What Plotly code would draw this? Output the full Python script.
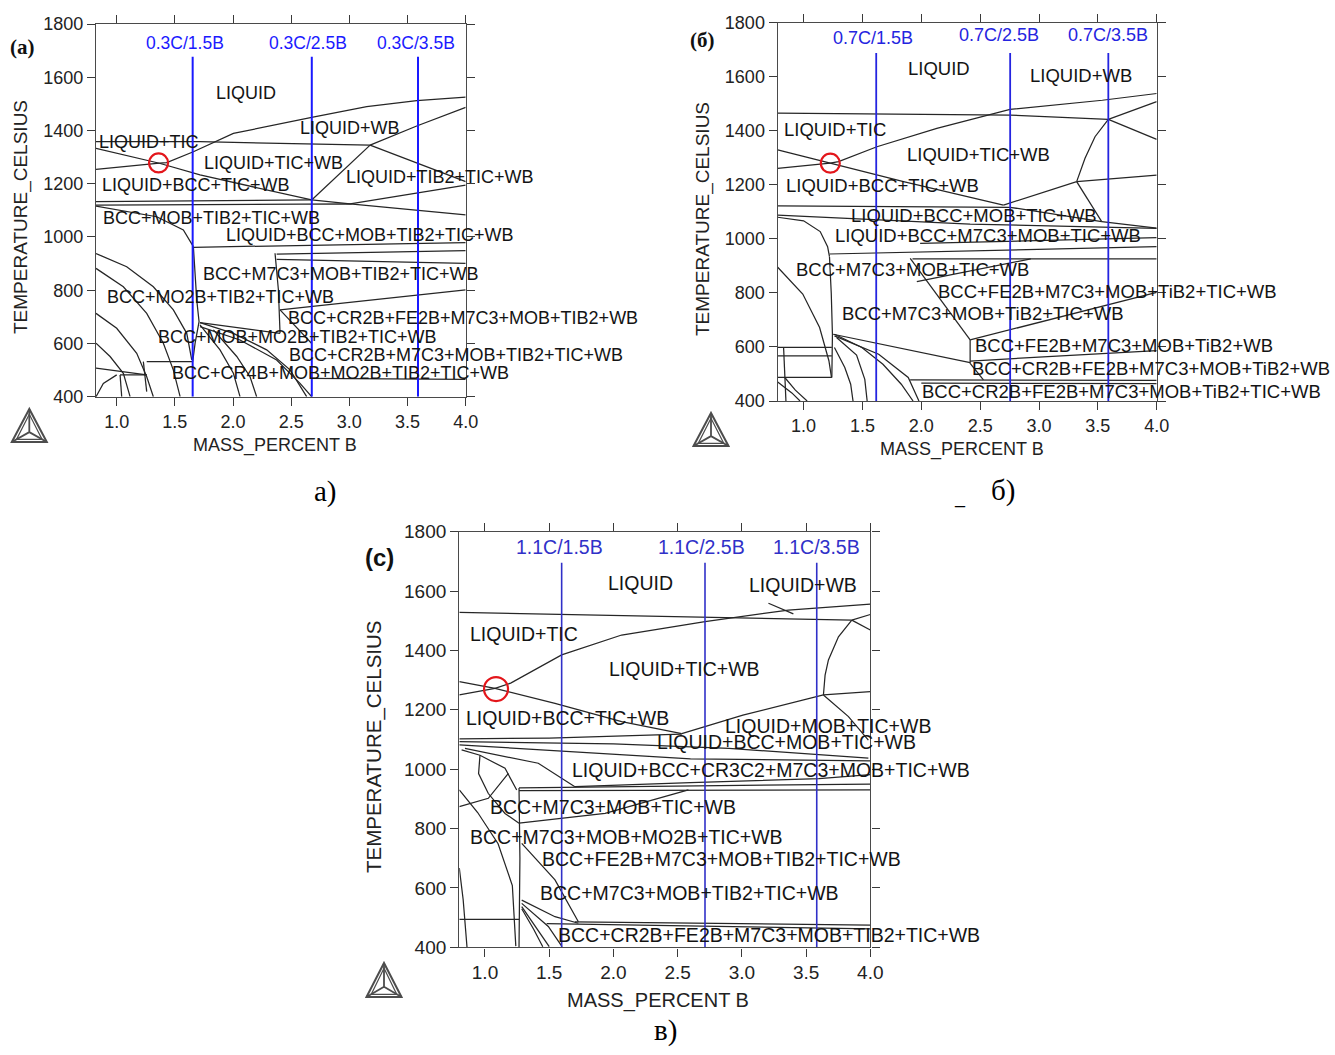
import plotly.graph_objects as go

W, H = 1335, 1055

# ---------------- data ----------------
X_TICKS = [1.0, 1.5, 2.0, 2.5, 3.0, 3.5, 4.0]
T_TICKS = [400, 600, 800, 1000, 1200, 1400, 1600, 1800]
T_RANGE = [400, 1800]
A_X_RANGE = [0.822, 4.0]
B_X_RANGE = [0.78, 4.0]
C_X_RANGE = [0.80, 4.0]

# vertical sections (composition lines)
A_SECTION_X = [1.653, 2.677, 3.59]
A_SECTION_TOP = 1677
A_SECTION_TEXT = ["0.3C/1.5B", "0.3C/2.5B", "0.3C/3.5B"]
A_SECTION_TEXT_X = [1.587, 2.648, 3.574]
A_SECTION_TEXT_T = [1730, 1730, 1730]

B_SECTION_X = [1.617, 2.755, 3.589]
B_SECTION_TOP = 1688
B_SECTION_TEXT = ["0.7C/1.5B", "0.7C/2.5B", "0.7C/3.5B"]
B_SECTION_TEXT_X = [1.589, 2.661, 3.584]
B_SECTION_TEXT_T = [1745, 1754, 1754]

C_SECTION_X = [1.597, 2.713, 3.583]
C_SECTION_TOP = 1695
C_SECTION_TEXT = ["1.1C/1.5B", "1.1C/2.5B", "1.1C/3.5B"]
C_SECTION_TEXT_X = [1.579, 2.688, 3.583]
C_SECTION_TEXT_T = [1749, 1749, 1749]

# invariant point markers (red circles)
A_MARK = (1.36, 1278)
B_MARK = (1.227, 1280)
C_MARK = (1.086, 1270)

# phase boundaries: lists of (mass % B, T celsius)
A_BOUNDARIES = [
    [(1.367, 1277), (1.43, 1279), (1.659, 1320), (2.003, 1389), (2.676, 1449), (3.149, 1490), (3.579, 1512), (4.0, 1525)],
    [(3.178, 1345), (3.579, 1417), (4.0, 1487)],
    [(0.822, 1358), (1.716, 1358), (3.178, 1345)],
    [(0.822, 1333), (1.367, 1277), (1.716, 1233), (2.676, 1139)],
    [(0.822, 1254), (1.367, 1277)],
    [(2.676, 1139), (3.178, 1345)],
    [(3.178, 1345), (4.0, 1208)],
    [(0.822, 1133), (2.676, 1139)],
    [(0.822, 1120), (3.006, 1124), (4.0, 1083)],
    [(2.676, 1139), (3.006, 1124)],
    [(3.006, 1124), (4.0, 1195)],
    [(0.822, 1116), (1.344, 1076), (1.573, 1026), (1.659, 964)],
    [(1.659, 964), (1.688, 763), (1.708, 682), (1.674, 601), (1.653, 532)],
    [(1.659, 961), (4.0, 979)],
    [(2.375, 936), (4.0, 949)],
    [(2.375, 916), (4.0, 901)],
    [(2.361, 939), (2.39, 801), (2.404, 638)],
    [(2.404, 726), (4.0, 801)],
    [(1.716, 678), (2.404, 638)],
    [(2.662, 469), (4.0, 465)],
    [(1.716, 678), (2.003, 638), (2.289, 576), (2.49, 501), (2.633, 400)],
    [(1.716, 663), (2.06, 613), (2.375, 538), (2.576, 450), (2.676, 400)],
    [(1.716, 670), (1.888, 576), (2.003, 488), (2.06, 400)],
    [(1.831, 651), (2.032, 551), (2.146, 475), (2.203, 400)],
    [(2.404, 726), (2.55, 660), (2.676, 600)],
    [(0.822, 938), (1.086, 888), (1.315, 813), (1.487, 726), (1.602, 638), (1.645, 538)],
    [(0.822, 882), (1.057, 813), (1.258, 713), (1.401, 601), (1.487, 500), (1.545, 400)],
    [(0.822, 713), (1.0, 657), (1.172, 563), (1.258, 475), (1.315, 400)],
    [(0.822, 601), (0.943, 551), (1.057, 488), (1.115, 400)],
    [(1.258, 532), (1.653, 532)],
    [(0.822, 507), (1.258, 482)],
    [(1.029, 482), (1.258, 482)],
    [(0.822, 400), (0.885, 450), (1.0, 482)],
    [(1.029, 482), (1.043, 400)],
    [(1.229, 532), (1.258, 419)],
]

B_BOUNDARIES = [
    [(0.78, 1465), (2.754, 1458), (3.589, 1442)],
    [(1.226, 1280), (1.297, 1286), (1.623, 1341), (2.132, 1409), (2.754, 1479), (3.538, 1513), (4.0, 1538)],
    [(3.589, 1442), (4.0, 1508)],
    [(3.589, 1442), (4.0, 1368)],
    [(3.589, 1442), (3.476, 1378), (3.391, 1298), (3.32, 1212)],
    [(3.32, 1212), (4.0, 1236)],
    [(0.78, 1329), (1.226, 1280), (1.849, 1212), (2.698, 1125)],
    [(0.78, 1261), (1.226, 1280)],
    [(2.698, 1125), (3.32, 1212)],
    [(3.32, 1212), (3.533, 1064)],
    [(0.78, 1122), (2.754, 1117), (3.533, 1064)],
    [(0.78, 1088), (2.415, 1055), (4.0, 1039)],
    [(3.533, 1064), (4.0, 1040)],
    [(0.78, 1080), (1.0, 1067), (1.141, 1027), (1.204, 971), (1.22, 934)],
    [(1.22, 934), (1.235, 800), (1.245, 647), (1.24, 487)],
    [(1.22, 944), (4.0, 971)],
    [(1.99, 983), (4.0, 1005)],
    [(1.925, 926), (4.0, 926)],
    [(1.906, 928), (2.415, 626)],
    [(1.962, 842), (2.93, 926)],
    [(2.415, 626), (2.415, 539)],
    [(2.415, 626), (4.0, 802)],
    [(2.415, 548), (4.0, 586)],
    [(2.415, 539), (2.528, 478)],
    [(1.905, 478), (4.0, 476)],
    [(2.0, 466), (4.0, 464)],
    [(1.251, 647), (2.415, 542)],
    [(0.78, 895), (0.993, 796), (1.136, 672), (1.215, 549), (1.237, 487)],
    [(0.78, 598), (1.24, 598)],
    [(0.78, 567), (1.24, 567)],
    [(0.78, 487), (1.24, 487)],
    [(0.83, 598), (0.85, 400)],
    [(0.78, 470), (0.9, 430), (0.97, 400)],
    [(0.84, 487), (0.93, 440), (1.03, 400)],
    [(1.262, 647), (1.495, 598), (1.674, 536), (1.83, 462), (1.93, 400)],
    [(1.28, 635), (1.45, 570), (1.52, 480), (1.54, 400)],
    [(1.262, 598), (1.35, 524), (1.40, 462), (1.42, 400)],
    [(1.262, 641), (1.638, 573), (1.889, 487), (1.98, 400)],
]

C_BOUNDARIES = [
    [(0.80, 1528), (2.0, 1518), (2.713, 1510), (3.4, 1505), (3.856, 1502)],
    [(1.078, 1272), (1.2, 1290), (1.597, 1385), (2.064, 1452), (2.713, 1497), (3.362, 1536), (4.0, 1556)],
    [(3.207, 1559), (3.401, 1523)],
    [(3.856, 1502), (3.752, 1446), (3.674, 1368), (3.648, 1317), (3.635, 1250)],
    [(3.856, 1502), (4.0, 1521)],
    [(3.856, 1502), (4.0, 1469)],
    [(3.635, 1250), (4.0, 1261)],
    [(3.635, 1250), (3.83, 1177), (3.985, 1098)],
    [(0.80, 1295), (1.078, 1272), (1.545, 1222), (2.064, 1160), (2.532, 1120)],
    [(0.80, 1250), (1.078, 1272)],
    [(2.532, 1120), (3.008, 1182), (3.635, 1250)],
    [(0.80, 1102), (1.5, 1105), (2.532, 1118)],
    [(0.80, 1093), (2.0, 1085), (2.9, 1070), (3.985, 1037)],
    [(0.80, 1082), (1.6, 1060), (2.6, 1035), (4.0, 1028)],
    [(0.844, 1070), (1.415, 1020), (1.70, 941)],
    [(1.70, 941), (2.6, 955), (3.6, 968), (4.0, 982)],
    [(1.265, 937), (4.0, 950)],
    [(1.265, 928), (4.0, 930)],
    [(0.818, 1065), (0.961, 1047), (1.156, 1003), (1.247, 930)],
    [(0.961, 1047), (0.95, 985), (1.026, 918), (1.156, 851), (1.265, 818)],
    [(0.80, 874), (1.026, 902), (1.182, 986)],
    [(1.265, 818), (1.935, 851), (2.584, 930)],
    [(0.80, 930), (0.943, 854), (1.102, 749), (1.213, 608), (1.24, 404)],
    [(1.265, 937), (1.272, 700), (1.265, 400)],
    [(1.286, 750), (1.545, 627), (1.727, 486)],
    [(1.48, 480), (4.0, 462)],
    [(1.70, 486), (4.0, 475)],
    [(1.286, 559), (1.545, 503), (1.727, 481)],
    [(1.286, 548), (1.493, 470), (1.6, 402)],
    [(1.286, 537), (1.415, 458), (1.5, 402)],
    [(1.286, 530), (1.38, 460), (1.45, 402)],
    [(0.80, 667), (0.83, 561), (0.86, 400)],
    [(0.80, 494), (1.265, 494)],
]

# phase-field labels: (text, mass % B, T)
A_LABELS = [
    ("LIQUID", 2.112, 1542),
    ("LIQUID+WB", 3.006, 1411),
    ("LIQUID+TIC", 1.28, 1358),
    ("LIQUID+TIB2+WB", 4.055, 1353),
    ("LIQUID+TIC+WB", 2.352, 1279),
    ("LIQUID+TIB2+TIC+WB", 3.78, 1225),
    ("LIQUID+BCC+TIC+WB", 1.682, 1195),
    ("LIQUID+MOB+TIB2+TIC+WB", 4.347, 1150),
    ("BCC+MOB+TIB2+TIC+WB", 1.817, 1070),
    ("LIQUID+BCC+MOB+TIB2+TIC+WB", 3.178, 1007),
    ("BCC+M7C3+MOB+TIB2+TIC+WB", 2.929, 861),
    ("BCC+MO2B+TIB2+TIC+WB", 1.888, 776),
    ("BCC+CR2B+FE2B+M7C3+MOB+TIB2+WB", 3.978, 696),
    ("BCC+MOB+MO2B+TIB2+TIC+WB", 2.55, 624),
    ("BCC+CR2B+M7C3+MOB+TIB2+TIC+WB", 3.918, 557),
    ("BCC+CR4B+MOB+MO2B+TIB2+TIC+WB", 2.92, 489),
    ("BCC+CR2B+FE2B+MOB+TIB2+TIC+WB", 4.09, 437),
]

B_LABELS = [
    ("LIQUID", 2.152, 1632),
    ("LIQUID+WB", 3.357, 1606),
    ("LIQUID+TIC", 1.269, 1403),
    ("LIQUID+TIC+WB", 2.483, 1314),
    ("LIQUID+TiB2+TIC+WB", 4.215, 1270),
    ("LIQUID+BCC+TIC+WB", 1.668, 1199),
    ("LIQUID+MOB+TiB2+TIC+WB", 4.401, 1170),
    ("LIQUID+BCC+MOB+TIC+WB", 2.449, 1085),
    ("LIQUID+BCC+M7C3+MOB+TIC+WB", 2.568, 1011),
    ("BCC+M7C3+MOB+TIC+WB", 1.923, 885),
    ("BCC+FE2B+M7C3+MOB+TiB2+TIC+WB", 3.578, 807),
    ("BCC+M7C3+MOB+TiB2+TIC+WB", 2.525, 722),
    ("BCC+FE2B+M7C3+MOB+TiB2+WB", 3.722, 604),
    ("BCC+CR2B+FE2B+M7C3+MOB+TiB2+WB", 3.951, 522),
    ("BCC+CR2B+FE2B+M7C3+MOB+TiB2+TIC+WB", 3.697, 437),
]

C_LABELS = [
    ("LIQUID", 2.207, 1627),
    ("LIQUID+WB", 3.477, 1620),
    ("LIQUID+TIC", 1.304, 1455),
    ("LIQUID+TIC+WB", 2.55, 1337),
    ("LIQUID+BCC+TIC+WB", 1.646, 1172),
    ("LIQUID+MOB+TIC+WB", 3.67, 1145),
    ("LIQUID+BCC+MOB+TIC+WB", 3.35, 1090),
    ("LIQUID+BCC+CR3C2+M7C3+MOB+TIC+WB", 3.224, 998),
    ("BCC+M7C3+MOB+TIC+WB", 1.997, 873),
    ("BCC+M7C3+MOB+MO2B+TIC+WB", 2.098, 772),
    ("BCC+FE2B+M7C3+MOB+TIB2+TIC+WB", 2.838, 697),
    ("BCC+M7C3+MOB+TIB2+TIC+WB", 2.589, 583),
    ("BCC+CR2B+FE2B+M7C3+MOB+TIB2+TIC+WB", 3.212, 441),
]

# ---------------- layout geometry (pixels) ----------------
A_BOX = (96.0, 24.0, 465.7, 396.7)     # left, top, right, bottom
B_BOX = (777.7, 22.7, 1156.7, 401.0)
C_BOX = (459.3, 531.7, 870.3, 947.3)

SANS = "Liberation Sans, Arial, sans-serif"
SERIF = "Liberation Serif, Times New Roman, serif"


def px(x, y):
    return x / W, 1 - y / H


fig = go.Figure()
annotations = []
shapes = []


def add_panel(idx, box, xr, boundaries, labels, sec_x, sec_top, sec_text, sec_tx, sec_tt,
              mark, blue, blue_w, lab_size, tick_size, sec_size, mark_size):
    xa = "x" if idx == 1 else "x%d" % idx
    ya = "y" if idx == 1 else "y%d" % idx
    bx, by = [], []
    for line in boundaries:
        for (u, v) in line:
            bx.append(u)
            by.append(v)
        bx.append(None)
        by.append(None)
    fig.add_trace(go.Scatter(x=bx, y=by, mode="lines", xaxis=xa, yaxis=ya,
                             line=dict(color="#262626", width=1.25), hoverinfo="skip",
                             showlegend=False))
    sx, sy = [], []
    for u in sec_x:
        sx += [u, u, None]
        sy += [sec_top, T_RANGE[0], None]
    fig.add_trace(go.Scatter(x=sx, y=sy, mode="lines", xaxis=xa, yaxis=ya,
                             line=dict(color=blue, width=blue_w), hoverinfo="skip",
                             showlegend=False))
    fig.add_trace(go.Scatter(x=[mark[0]], y=[mark[1]], mode="markers", xaxis=xa, yaxis=ya,
                             marker=dict(symbol="circle-open", size=mark_size, color="#e3161b",
                                         line=dict(width=2.2, color="#e3161b")),
                             hoverinfo="skip", showlegend=False))
    for (t, u, v) in labels:
        annotations.append(dict(text=t, x=u, y=v, xref=xa, yref=ya, showarrow=False,
                                xanchor="center", yanchor="middle",
                                font=dict(family=SANS, size=lab_size, color="#141414")))
    for t, u, v in zip(sec_text, sec_tx, sec_tt):
        annotations.append(dict(text=t, x=u, y=v, xref=xa, yref=ya, showarrow=False,
                                xanchor="center", yanchor="middle",
                                font=dict(family=SANS, size=sec_size, color=blue)))
    l, t_, r, b = box
    axcommon = dict(showgrid=False, zeroline=False, showline=True, linecolor="#4a4a4a",
                    linewidth=1.4, mirror="ticks", ticks="outside", ticklen=8, tickwidth=1.3,
                    tickcolor="#3a3a3a", automargin=False,
                    tickfont=dict(family=SANS, size=tick_size, color="#222"))
    fig.layout["xaxis" if idx == 1 else "xaxis%d" % idx] = dict(
        domain=[l / W, r / W], range=xr, tickvals=X_TICKS,
        ticktext=["%.1f" % v for v in X_TICKS], anchor=ya, **axcommon)
    fig.layout["yaxis" if idx == 1 else "yaxis%d" % idx] = dict(
        domain=[1 - b / H, 1 - t_ / H], range=T_RANGE, tickvals=T_TICKS,
        ticktext=[str(v) for v in T_TICKS], anchor=xa, **axcommon)


add_panel(1, A_BOX, A_X_RANGE, A_BOUNDARIES, A_LABELS, A_SECTION_X, A_SECTION_TOP,
          A_SECTION_TEXT, A_SECTION_TEXT_X, A_SECTION_TEXT_T, A_MARK, "#1a1aff", 2.0,
          18, 18, 17.5, 19)
add_panel(2, B_BOX, B_X_RANGE, B_BOUNDARIES, B_LABELS, B_SECTION_X, B_SECTION_TOP,
          B_SECTION_TEXT, B_SECTION_TEXT_X, B_SECTION_TEXT_T, B_MARK, "#2424e0", 1.8,
          18.5, 18, 18, 19)
add_panel(3, C_BOX, C_X_RANGE, C_BOUNDARIES, C_LABELS, C_SECTION_X, C_SECTION_TOP,
          C_SECTION_TEXT, C_SECTION_TEXT_X, C_SECTION_TEXT_T, C_MARK, "#3030c8", 1.6,
          19.5, 19, 19.5, 24)


def paper_text(text, x, y, size, family=SANS, angle=0, color="#222", bold=False):
    xp, yp = px(x, y)
    t = "<b>%s</b>" % text if bold else text
    annotations.append(dict(text=t, x=xp, y=yp, xref="paper", yref="paper", showarrow=False,
                            xanchor="center", yanchor="middle", textangle=angle,
                            font=dict(family=family, size=size, color=color)))


# axis titles
paper_text("TEMPERATURE_CELSIUS", 21, 217, 19, angle=-90)
paper_text("MASS_PERCENT B", 275, 445, 18)
paper_text("TEMPERATURE_CELSIUS", 703, 219, 19, angle=-90)
paper_text("MASS_PERCENT B", 962, 449, 18)
paper_text("TEMPERATURE_CELSIUS", 374, 747, 20.5, angle=-90)
paper_text("MASS_PERCENT B", 658, 1000, 20)

# panel letters
paper_text("(a)", 22, 47, 21, family=SERIF, color="#111", bold=True)
paper_text("(б)", 702, 40, 21, family=SERIF, color="#111", bold=True)
paper_text("(c)", 379, 557, 24, family=SANS, color="#111", bold=True)

# captions
paper_text("а)", 325, 492, 29, family=SERIF, color="#000")
paper_text("б)", 1003, 490, 29, family=SERIF, color="#000")
paper_text("в)", 665, 1030, 29, family=SERIF, color="#000")
paper_text("_", 960, 497, 20, family=SERIF, color="#000")


def logo(cx, top, w, h):
    ax_, ay_ = cx, top
    blx, bly = cx - w / 2, top + h
    brx, bry = cx + w / 2, top + h
    ix, iy = cx, top + 0.70 * h

    def P(x, y):
        xp, yp = px(x, y)
        return "%.5f,%.5f" % (xp, yp)

    outer = "M %s L %s L %s Z" % (P(ax_, ay_), P(blx, bly), P(brx, bry))
    d = 2.6
    inner = "M %s L %s L %s Z" % (P(ax_, ay_ + 2 * d), P(blx + 1.8 * d, bly - d),
                                   P(brx - 1.8 * d, bry - d))
    spokes = "M %s L %s M %s L %s M %s L %s" % (P(ix, iy), P(ax_, ay_), P(ix, iy), P(blx, bly),
                                                 P(ix, iy), P(brx, bry))
    for path, wd in ((outer, 2.0), (inner, 1.2), (spokes, 1.8)):
        shapes.append(dict(type="path", path=path, xref="paper", yref="paper",
                           line=dict(color="#4d4d4d", width=wd)))


logo(29.3, 409, 35, 33)
logo(711, 413, 35, 33)
logo(384, 963, 35, 34)

fig.update_layout(width=W, height=H, margin=dict(l=0, r=0, t=0, b=0, autoexpand=False),
                  paper_bgcolor="white", plot_bgcolor="white",
                  annotations=annotations, shapes=shapes, showlegend=False)

fig.write_html("out.html", config={"displayModeBar": False},
               post_script="document.body.style.margin='0px';document.body.style.padding='0px';")
